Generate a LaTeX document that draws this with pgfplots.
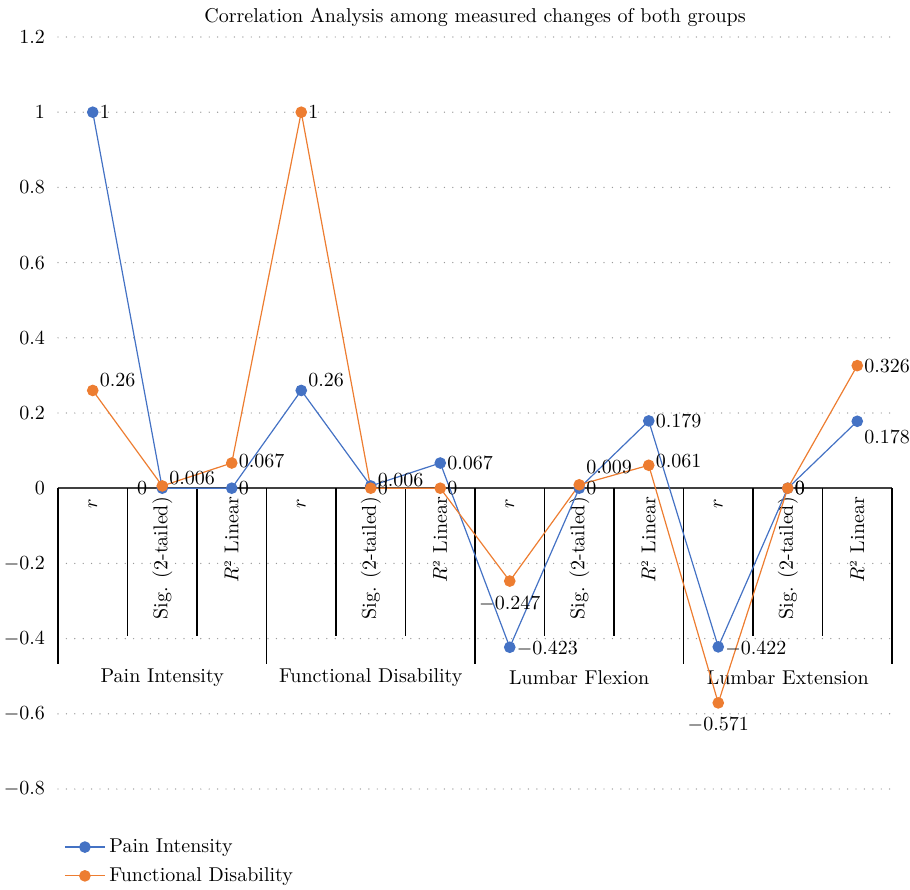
\documentclass[border=0pt]{standalone}
\usepackage{pgfplots}
\pgfplotsset{compat=1.18}
\usepackage{pgfplotstable}
\definecolor{cblue}{HTML}{4472C4}
\definecolor{corange}{HTML}{ED7D31}

\pgfplotstableread{
x y
0.5 1
1.5 0
2.5 0
3.5 0.26
4.5 0.006
5.5 0.067
6.5 -0.423
7.5 0
8.5 0.179
9.5 -0.422
10.5 0
11.5 0.178
}\pain

\pgfplotstableread{
x y
0.5 0.26
1.5 0.006
2.5 0.067
3.5 1
4.5 0
5.5 0
6.5 -0.247
7.5 0.009
8.5 0.061
9.5 -0.571
10.5 0
11.5 0.326
}\func

% data labels to the right of the points (value, vertical shift in pt)
\pgfplotstableread{
x y dy
0.5 1 0
2.5 0 0
3.5 0.26 5
4.5 0.006 3
5.5 0.067 0
6.5 -0.423 -1
7.5 0 0
8.5 0.179 0
9.5 -0.422 -1
10.5 0 0
11.5 0.178 -8
0.5 0.26 5
1.5 0.006 4
2.5 0.067 1
3.5 1 0
4.5 0 0
5.5 0 0
7.5 0.009 9
8.5 0.061 2
10.5 0 0
11.5 0.326 0
}\labw

\pgfplotstableread{
x y
6.5 -0.247
9.5 -0.571
}\labn

\pgfplotstableread{
x y
1.5 0
}\labe

\begin{document}
\begin{tikzpicture}
\useasboundingbox (-29pt,-50pt) rectangle (426pt,394.5pt);
\begin{axis}[
  scale only axis, width=417pt, height=376pt,
  xmin=0, xmax=12, ymin=-0.8, ymax=1.2,
  axis line style={draw=none},
  xtick=\empty,
  ytick={-0.8,-0.6,-0.4,-0.2,0,0.2,0.4,0.6,0.8,1,1.2},
  ymajorgrids,
  grid style={gray!80, line width=0.7pt, line cap=round, dash pattern=on 0pt off 4.2pt},
  major tick length=0pt,
  yticklabel style={xshift=-3pt},
  /pgf/number format/.cd, fixed, precision=3, /pgfplots/.cd,
  clip=false,
  title={Correlation Analysis among measured changes of both groups},
  title style={yshift=-4.5pt},
  legend style={at={(0,-0.055)}, anchor=north west, draw=none, fill=none, row sep=2pt, cells={anchor=west}},
  legend cell align=left,
  legend image code/.code={
    \draw[#1] (0cm,0cm) -- (0.7cm,0cm);
    \draw[#1, mark repeat=1, mark phase=1] plot coordinates {(0.35cm,0cm)};
  },
]
% zero line and separators
\draw[black!75, line width=0.9pt] (axis cs:0,0) -- (axis cs:12,0);
\pgfplotsinvokeforeach{1,2,4,5,7,8,10,11}{
  \draw[black, line width=0.7pt] (axis cs:#1,0) -- (axis cs:#1,-0.393);
}
\pgfplotsinvokeforeach{0,3,6,9,12}{
  \draw[black, line width=0.7pt] (axis cs:#1,0) -- (axis cs:#1,-0.467);
}
% category labels
\pgfplotsinvokeforeach{0.5,3.5,6.5,9.5}{
  \node[rotate=90, anchor=east] at (axis cs:#1,-0.01) {$r$};
}
\pgfplotsinvokeforeach{1.5,4.5,7.5,10.5}{
  \node[rotate=90, anchor=east] at (axis cs:#1,-0.005) {Sig. (2-tailed)};
}
\pgfplotsinvokeforeach{2.5,5.5,8.5,11.5}{
  \node[rotate=90, anchor=east] at (axis cs:#1,-0.005) {$R^{\scriptscriptstyle 2}$ Linear};
}
\node at (axis cs:1.5,-0.504) {Pain Intensity};
\node at (axis cs:4.5,-0.504) {Functional Disability};
\node at (axis cs:7.5,-0.504) {Lumbar Flexion};
\node at (axis cs:10.5,-0.504) {Lumbar Extension};

\addplot[color=cblue, line width=0.6pt, mark=*, mark size=2.6pt]
  table[x=x, y=y] {\pain};
\addlegendentry{Pain Intensity}
\addplot[color=corange, line width=0.6pt, mark=*, mark size=2.6pt]
  table[x=x, y=y] {\func};
\addlegendentry{Functional Disability}

\addplot[forget plot, draw=none, mark=none, nodes near coords,
  visualization depends on={\thisrow{dy} \as \mydy},
  every node near coord/.append style={anchor=west, yshift=\mydy pt, text=black}]
  table[x=x, y=y] {\labw};
\addplot[forget plot, draw=none, mark=none, nodes near coords,
  every node near coord/.append style={anchor=north, yshift=-4pt, text=black}]
  table[x=x, y=y] {\labn};
\addplot[forget plot, draw=none, mark=none, nodes near coords,
  every node near coord/.append style={anchor=east, xshift=-4pt, text=black}]
  table[x=x, y=y] {\labe};
\end{axis}
\end{tikzpicture}
\end{document}
